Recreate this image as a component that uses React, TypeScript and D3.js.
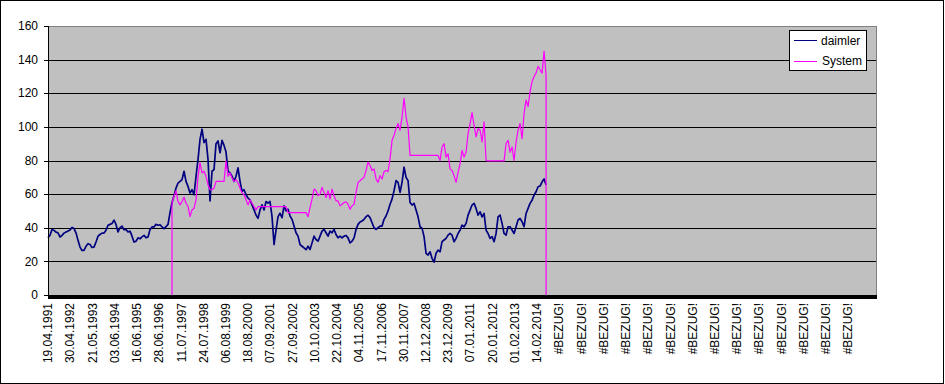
import React from 'react';
import * as d3 from 'd3';

// y axis ticks
const Y_TICKS = [0, 20, 40, 60, 80, 100, 120, 140, 160];

// category labels (one every label interval)
const X_LABELS = [
  '19.04.1991', '30.04.1992', '21.05.1993', '03.06.1994', '16.06.1995', '28.06.1996',
  '11.07.1997', '24.07.1998', '06.08.1999', '18.08.2000', '07.09.2001', '27.09.2002',
  '10.10.2003', '22.10.2004', '04.11.2005', '17.11.2006', '30.11.2007', '12.12.2008',
  '23.12.2009', '07.01.2011', '20.01.2012', '01.02.2013', '14.02.2014',
  '#BEZUG!', '#BEZUG!', '#BEZUG!', '#BEZUG!', '#BEZUG!', '#BEZUG!', '#BEZUG!',
  '#BEZUG!', '#BEZUG!', '#BEZUG!', '#BEZUG!', '#BEZUG!', '#BEZUG!', '#BEZUG!',
];

// total category span, in label intervals
const X_SPAN = 37.3;
// spacing of the samples below, in label intervals
const SAMPLE_STEP = 0.09;

// daimler closing prices (sampled)
const DAIMLER = [
  34, 35.5, 39, 38.5, 37.4, 37, 34.5, 35.5, 36.8, 37.5,
  38, 38.6, 40.2, 39.5, 37, 32.5, 28.5, 26.5, 26.5, 29,
  30.5, 30, 28.3, 28.5, 31.5, 35, 36, 36.8, 36.8, 38.5,
  41.5, 42, 42.5, 44.5, 42, 37.5, 40, 41, 38.8, 39,
  37.5, 38, 35, 31.5, 32, 34, 33.4, 34.6, 35.5, 34,
  34.5, 39, 40.5, 40.5, 42, 41.5, 41.8, 40.5, 39.5, 40.6,
  42, 49, 55, 59, 63.6, 66.6, 67.6, 68.6, 73.6, 67.6,
  64.6, 60.6, 62.6, 59.6, 70.6, 80.6, 92.6, 98.6, 90.6, 92.6,
  80.6, 56, 73.6, 74.6, 90, 91.6, 84.6, 92, 89, 85,
  73.6, 72.6, 70.6, 67.6, 70.6, 75.6, 67.6, 61.6, 62.6, 59.6,
  57.6, 56.6, 53.6, 50.6, 47.6, 45.6, 50.6, 53.6, 50.6, 55.6,
  54.6, 55.6, 46.6, 30, 38.6, 46.6, 48.6, 46, 53, 50,
  51, 47, 45, 41, 37, 35, 30, 29, 28, 27,
  29, 27, 31, 35, 33, 32, 35, 38, 39, 37,
  35, 38, 37, 39, 36, 34, 35, 34, 35, 35.4,
  34, 31, 32, 34, 39, 42, 43.4, 44, 45, 46.6,
  47.4, 46, 43, 40, 39, 40, 41, 41, 45, 47,
  50, 54, 57, 62, 68, 67, 61, 67, 76, 70,
  68, 55, 53.5, 54.5, 50.5, 46.5, 40.6, 39.6, 34.7, 24.8,
  23.8, 25.7, 21.8, 19.5, 24.8, 26.7, 25.7, 31.7, 32.7, 33.7,
  35.6, 36.6, 35.6, 31.7, 33.7, 36.6, 38.6, 41.6, 40.6, 42.6,
  47.5, 50.5, 53.5, 54.5, 51.5, 47.5, 49.5, 46.5, 48.5, 38.6,
  36.6, 33.7, 34.7, 31.7, 36.6, 46.5, 47.5, 42.6, 36.6, 35.6,
  40.6, 40.6, 38.6, 36.6, 40.6, 44.6, 45.5, 43.6, 40.6, 48.5,
  51.5, 54.5, 56.4, 59.4, 61.4, 64.4, 64.8, 67.3, 69, 65.5,
];

// sample index at which the System series starts (0 before and after)
const SYSTEM_OFFSET = 62;
const SYSTEM = [
  55, 58.6, 62, 55.6, 53.6, 55.6, 58.2, 54.6, 52.6, 46.6,
  50.6, 51.6, 56.6, 70.6, 78.6, 72.6, 73.6, 70.6, 65.6, 62.6,
  62.6, 63.6, 67.6, 67.6, 67.6, 67.6, 67.6, 79.6, 70.6, 72.6,
  69.6, 67.6, 68.6, 66.6, 63.6, 60.6, 59.6, 56.6, 53.6, 56.6,
  54.6, 52.6, 50.6, 52.6, 52.6, 52.6, 52.6, 52.6, 52.6, 52.6,
  52.6, 52.6, 52.6, 52.6, 52.6, 52.6, 52.6, 52.6, 49, 49,
  49, 49, 49, 49, 49, 49, 49, 49, 46.6, 52,
  57, 63, 62, 59, 60, 64, 61, 58, 62, 57,
  63, 59, 56, 56, 53, 54, 55, 55.4, 54, 51,
  53, 54, 61, 67, 68, 69, 70, 74, 79, 77,
  74, 75, 69, 67, 71, 69, 73.4, 74, 73.4, 81,
  92, 95, 99, 102, 98, 106, 117, 106, 100, 83,
  83, 83, 83, 83, 83, 83, 83, 83, 83, 83,
  83, 83, 83, 83, 80, 88, 90, 82, 84, 75,
  74, 71, 67, 73, 78, 86, 82, 85, 96, 102,
  108.5, 101, 94, 99, 98, 91, 103, 80, 79.8, 79.8,
  79.8, 79.8, 79.8, 79.8, 79.8, 79.8, 79.8, 90, 92, 85,
  88, 80, 91, 98, 102, 93, 108, 116, 112, 121,
  127, 130, 132, 136, 134, 132, 145, 131,
];

const FONT = '"Liberation Sans", Arial, sans-serif';

export default function App() {
  const W = 945;
  const H = 384;
  const left = 48;
  const right = 877;
  const top = 26;
  const bottom = 295;

  const x = d3.scaleLinear().domain([0, X_SPAN]).range([left, right]);
  const y = d3.scaleLinear().domain([0, 160]).range([bottom, top]);

  const line = d3
    .line<[number, number]>()
    .x((d) => x(d[0]))
    .y((d) => y(d[1]));

  const dPts: [number, number][] = DAIMLER.map((v, i) => [i * SAMPLE_STEP, v]);
  const sPts: [number, number][] = SYSTEM.map((v, i) => [(i + SYSTEM_OFFSET) * SAMPLE_STEP, v]);
  const sFull: [number, number][] = [
    [sPts[0][0], 0],
    ...sPts,
    [sPts[sPts.length - 1][0], 0],
  ];

  const gridRow = (v: number) => Math.round(y(v)) + 0.5;

  return (
    <svg
      width={W}
      height={H}
      style={{ position: 'absolute', left: 0, top: 0, display: 'block' }}
      fontFamily={FONT}
    >
      <rect x={0} y={0} width={W} height={H} fill="#ffffff" />
      <rect x={0.5} y={0.5} width={943} height={383} fill="none" stroke="#000" strokeWidth={1} />

      {/* plot area */}
      <rect x={left} y={top} width={right - left} height={bottom - top} fill="#C0C0C0" />
      <rect
        x={left + 0.5}
        y={top + 0.5}
        width={right - left - 1}
        height={bottom - top}
        fill="none"
        stroke="#808080"
        strokeWidth={1}
      />

      {/* gridlines */}
      {Y_TICKS.filter((v) => v > 0 && v < 160).map((v) => (
        <line
          key={'g' + v}
          x1={left}
          x2={right - 1}
          y1={gridRow(v)}
          y2={gridRow(v)}
          stroke="#000"
          strokeWidth={1}
          shapeRendering="crispEdges"
        />
      ))}

      {/* series */}
      <path
        d={line(dPts) || ''}
        fill="none"
        stroke="#000080"
        strokeWidth={1.7}
        strokeLinejoin="round"
      />
      <path
        d={line(sFull) || ''}
        fill="none"
        stroke="#FF00FF"
        strokeWidth={1.2}
        strokeLinejoin="round"
      />

      {/* y axis */}
      <line x1={left + 0.5} x2={left + 0.5} y1={top} y2={bottom} stroke="#000" strokeWidth={1} />
      {Y_TICKS.map((v) => (
        <g key={'yt' + v}>
          <line
            x1={left - 4}
            x2={left}
            y1={v === 160 ? top + 0.5 : gridRow(v)}
            y2={v === 160 ? top + 0.5 : gridRow(v)}
            stroke="#000"
            strokeWidth={1}
          />
          <text
            x={38}
            y={y(v)}
            dy="0.35em"
            textAnchor="end"
            fontSize={12}
            fill="#000"
          >
            {v}
          </text>
        </g>
      ))}

      {/* x axis (heavy) */}
      <rect x={left} y={bottom} width={right - left} height={4} fill="#000" />

      {X_LABELS.map((lab, i) => (
        <text
          key={'xl' + i}
          transform={`translate(${x(i)},303) rotate(-90)`}
          dy="0.35em"
          textAnchor="end"
          fontSize={12}
          fill="#000"
        >
          {lab}
        </text>
      ))}

      {/* legend */}
      <rect x={789.5} y={30.5} width={77} height={40} fill="#fff" stroke="#000" strokeWidth={1} />
      <line x1={794} x2={817} y1={40.5} y2={40.5} stroke="#000080" strokeWidth={1} />
      <text x={821} y={45} fontSize={12} fill="#000">daimler</text>
      <line x1={794} x2={817} y1={61.5} y2={61.5} stroke="#FF00FF" strokeWidth={1} />
      <text x={822} y={65} fontSize={12} fill="#000">System</text>
    </svg>
  );
}
